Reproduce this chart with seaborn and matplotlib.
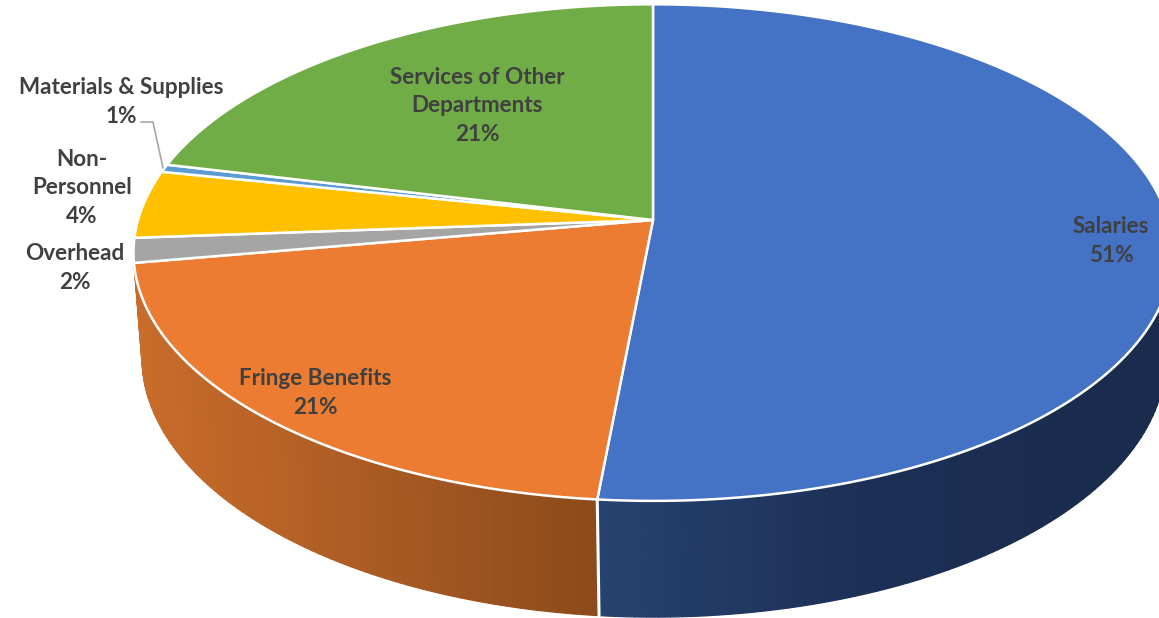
import numpy as np
import matplotlib
matplotlib.use("Agg")
import matplotlib.pyplot as plt
import seaborn as sns

categories = ["Salaries", "Fringe Benefits", "Overhead", "Non-\nPersonnel", "Materials & Supplies", "Services of Other\nDepartments"]
values = [51.5, 20.75, 1.6, 4.4, 0.5, 21.25]
pct_labels = ["51%", "21%", "2%", "4%", "1%", "21%"]
colors = ["#4472C4", "#EB7C31", "#A5A5A5", "#FFC000", "#5B9BD5", "#70AD47"]
label_xy = [(1111, 241), (315, 393), (75, 268), (82, 188), (121, 102), (477, 106)]

# Side shading, starting at the seam between the two walls
side_ramps = {0: ["#26426F", "#1C2F55", "#1A2C4E", "#1A2C4E", "#1A2C4E"],
              1: ["#8C4B1B", "#A55822", "#B96327", "#C46A2A", "#C96D2B"]}

sns.set_theme(style="white")
plt.rcParams["font.family"] = ["Lato", "DejaVu Sans"]

K = 0.1313


def project(theta, cx, cy, a, b):
    x, y = np.sin(theta), np.cos(theta)
    w = 1 + K * y
    return cx + a * x / w, cy - b * y / w


TOP = (653, 220, 515, 244)
BOTTOM = (654, 323, 507.6, 255.5)

fig, ax = plt.subplots(figsize=(11.59, 6.18), dpi=100)
fig.subplots_adjust(0, 0, 1, 1)
ax.set_xlim(0, 1159)
ax.set_ylim(618, 0)
ax.axis("off")

edges = np.radians(np.concatenate([[0], np.cumsum(values)]) * 3.6)

# Side walls of the two front slices, drawn as narrow strips for the shading
for i in (0, 1):
    t0 = max(edges[i], np.radians(80))
    t1 = edges[i + 1]
    n = 90
    ramp = sns.blend_palette(side_ramps[i], n)
    ts = np.linspace(t0, t1, n + 1)
    if i == 0:
        ts = ts[::-1]
    for j in range(n):
        seg = np.linspace(ts[j], ts[j + 1], 4)
        xt, yt = project(seg, *TOP)
        xb, yb = project(seg[::-1], *BOTTOM)
        ax.fill(np.r_[xt, xb], np.r_[yt, yb], color=ramp[j], lw=0.9, zorder=1)

# White seam between the two side walls
xt, yt = project(edges[1], *TOP)
xb, yb = project(edges[1], *BOTTOM)
ax.plot([xt, xb], [yt, yb], color="white", lw=2.2, zorder=2)

# Top faces
cx0, cy0 = TOP[0], TOP[1]
for i, c in enumerate(colors):
    th = np.linspace(edges[i], edges[i + 1], 200)
    x, y = project(th, *TOP)
    ax.fill(np.r_[cx0, x], np.r_[cy0, y], facecolor=c, edgecolor="white", lw=1.8, joinstyle="round", zorder=3)

# Labels
for name, pct, (x, y) in zip(categories, pct_labels, label_xy):
    ax.text(x, y, f"{name}\n{pct}", ha="center", va="center", ma="center", fontsize=16.2, fontweight="bold",
            color="#404040", linespacing=1.47, zorder=5)

# Leader line for the smallest slice
ax.plot([141, 153, 163], [122, 122, 168], color="#A6A6A6", lw=1.2, zorder=4)

fig.savefig("out.png", dpi=100)
